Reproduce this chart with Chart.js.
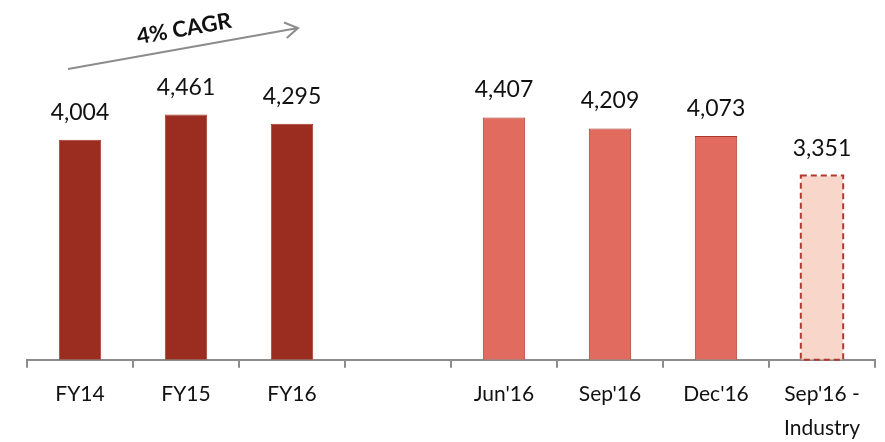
<!DOCTYPE html>
<html lang="en">
<head>
  <meta charset="UTF-8">
  <title>Average ticket size</title>
  <style>
    body { margin: 0; background: #fff; }
  </style>
</head>
<body>
  <canvas id="barChart" width="885" height="442"></canvas>

  <script src="https://cdn.jsdelivr.net/npm/chart.js@4.4.0/dist/chart.umd.min.js"></script>
  <script>
    const categories = ['FY14', 'FY15', 'FY16', '', "Jun'16", "Sep'16", "Dec'16", ["Sep'16 -", 'Industry']];
    const values = [4004, 4461, 4295, null, 4407, 4209, 4073, 3351];
    const fillColors = ['#9b2d20', '#9b2d20', '#9b2d20', '#fff', '#e06b5e', '#e06b5e', '#e06b5e', '#f8d6ca'];
    const borderColors = ['#a8392b', '#a8392b', '#a8392b', '#fff', '#a8392b', '#a8392b', '#a8392b', '#f8d6ca'];
    const dashedIndex = 7;
    const cagrText = '4% CAGR';

    const FONT = 'Lato, "Open Sans", sans-serif';

    // value labels over bars + dashed outline for the industry bar
    const barExtras = {
      id: 'barExtras',
      afterDatasetsDraw(chart) {
        const ctx = chart.ctx;
        const meta = chart.getDatasetMeta(0);
        ctx.save();
        meta.data.forEach((bar, i) => {
          if (values[i] === null) return;
          const p = bar.getProps(['x', 'y', 'width', 'base'], true);
          if (i === dashedIndex) {
            ctx.setLineDash([6, 4]);
            ctx.strokeStyle = '#b0392c';
            ctx.lineWidth = 2;
            ctx.strokeRect(p.x - p.width / 2, p.y, p.width, p.base - p.y);
            ctx.setLineDash([]);
          }
          ctx.fillStyle = '#111';
          ctx.font = '23px ' + FONT;
          ctx.textAlign = 'center';
          ctx.textBaseline = 'bottom';
          ctx.fillText(values[i].toLocaleString('en-US'), p.x, p.y - 16);
        });
        ctx.restore();
      }
    };

    // CAGR arrow over the FY bars
    const cagrArrow = {
      id: 'cagrArrow',
      afterDraw(chart) {
        const ctx = chart.ctx;
        const meta = chart.getDatasetMeta(0);
        const x0 = meta.data[0].x - 12, y0 = 69;
        const x1 = meta.data[2].x + 6, y1 = 28;
        const ang = Math.atan2(y1 - y0, x1 - x0);
        ctx.save();
        ctx.strokeStyle = '#8c8c8c';
        ctx.lineWidth = 2;
        ctx.beginPath();
        ctx.moveTo(x0, y0);
        ctx.lineTo(x1, y1);
        ctx.moveTo(x1 - 15 * Math.cos(ang - 0.55), y1 - 15 * Math.sin(ang - 0.55));
        ctx.lineTo(x1, y1);
        ctx.lineTo(x1 - 15 * Math.cos(ang + 0.55), y1 - 15 * Math.sin(ang + 0.55));
        ctx.stroke();
        ctx.translate(184, 29);
        ctx.rotate(ang);
        ctx.fillStyle = '#111';
        ctx.font = 'bold 22px ' + FONT;
        ctx.textAlign = 'center';
        ctx.textBaseline = 'middle';
        ctx.fillText(cagrText, 0, 0);
        ctx.restore();
      }
    };

    new Chart(document.getElementById('barChart'), {
      type: 'bar',
      data: {
        labels: categories,
        datasets: [{
          data: values,
          backgroundColor: fillColors,
          borderColor: borderColors,
          borderWidth: 1,
          categoryPercentage: 1,
          barPercentage: 0.4
        }]
      },
      options: {
        responsive: false,
        animation: false,
        devicePixelRatio: 1,
        layout: { padding: { left: 27, right: 10, top: 30, bottom: -13 } },
        plugins: { legend: { display: false }, tooltip: { enabled: false } },
        scales: {
          x: {
            grid: { offset: true, drawOnChartArea: false, color: '#8c8c8c', tickLength: 8, lineWidth: 2 },
            border: { color: '#8c8c8c', width: 2 },
            ticks: { color: '#111', font: { family: FONT, size: 21, lineHeight: 1.6 }, padding: 10, maxRotation: 0, autoSkip: false }
          },
          y: { display: false, min: 0, max: 6000 }
        }
      },
      plugins: [barExtras, cagrArrow]
    });
  </script>
</body>
</html>
